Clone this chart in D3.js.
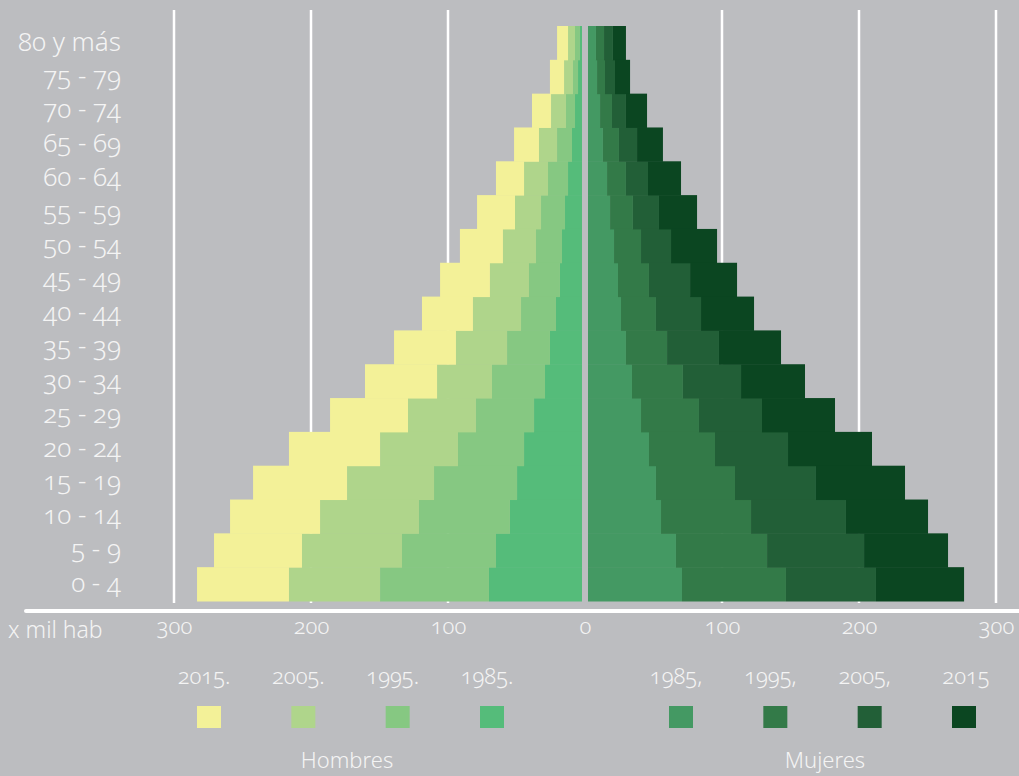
<!DOCTYPE html>
<html>
<head>
<meta charset="utf-8">
<script src="https://cdn.jsdelivr.net/npm/d3@7"></script>
<style>
  html, body { margin: 0; padding: 0; background: #bcbdc0; }
  svg text {
    font-family: "Noto Sans", "Open Sans", sans-serif;
    font-weight: 350;
    font-variant-numeric: oldstyle-nums;
    font-feature-settings: "onum" 1;
    fill: #f4f4f4;
  }
</style>
</head>
<body>
<svg id="chart" width="1019" height="776"></svg>
<script>
// age groups, top row first
const ages = ["80 y más", "75 - 79", "70 - 74", "65 - 69", "60 - 64", "55 - 59",
  "50 - 54", "45 - 49", "40 - 44", "35 - 39", "30 - 34", "25 - 29",
  "20 - 24", "15 - 19", "10 - 14", "5 - 9", "0 - 4"];

const years = ["1985", "1995", "2005", "2015"];

// thousands of inhabitants, stacked from the centre outwards
const hombres1985 = [1.5, 2.9, 5.1, 7.3, 10.2, 12.4, 14.6, 16.1, 19.0, 23.4, 27.0, 35.0, 42.3, 47.4, 52.6, 62.8, 67.9];
const hombres1995 = [3.6, 3.7, 6.6, 10.9, 14.6, 17.5, 19.0, 22.6, 25.5, 31.3, 38.7, 42.4, 48.2, 60.6, 66.4, 68.6, 79.5];
const hombres2005 = [5.1, 6.5, 10.9, 13.2, 17.5, 19.0, 24.1, 28.5, 35.1, 37.3, 40.1, 49.6, 56.9, 63.5, 72.2, 73.0, 66.5];
const hombres2015 = [8.0, 10.3, 13.9, 18.2, 20.5, 27.7, 31.4, 36.4, 37.2, 45.2, 52.6, 56.9, 66.5, 68.6, 65.7, 64.2, 67.1];

const mujeres1985 = [5.8, 6.6, 8.8, 10.9, 13.9, 16.1, 19.0, 21.9, 24.1, 27.7, 32.1, 38.7, 44.5, 49.6, 53.3, 64.2, 68.6];
const mujeres1995 = [5.9, 5.8, 8.7, 11.7, 13.8, 16.7, 19.7, 22.6, 25.5, 30.0, 37.2, 42.3, 48.2, 57.7, 65.7, 66.5, 75.9];
const mujeres2005 = [6.5, 7.3, 10.2, 13.2, 16.1, 19.0, 21.9, 30.0, 32.9, 37.9, 42.4, 46.0, 53.3, 59.1, 69.3, 70.8, 65.7];
const mujeres2015 = [9.5, 11.0, 15.4, 18.9, 24.1, 27.8, 33.6, 34.3, 38.7, 45.3, 46.7, 53.3, 61.3, 65.0, 59.9, 61.3, 64.3];

const leftTicks = [300, 200, 100, 0];
const rightTicks = [100, 200, 300];
const gridTicks = [100, 200, 300];

const hombresLabels = ["1985.", "1995.", "2005.", "2015."];
const mujeresLabels = ["1985,", "1995,", "2005,", "2015"];

const coloresHombres = ["#55bc7a", "#86c882", "#afd58b", "#f3f198"];
const coloresMujeres = ["#449963", "#337a48", "#225f37", "#0b4621"];

const svg = d3.select("#chart");

const center = 585, gap = 3;
const xM = d3.scaleLinear().domain([0, 300]).range([center, center - 411]);
const xF = d3.scaleLinear().domain([0, 300]).range([center, center + 411]);
const y = d3.scaleBand().domain(ages).range([26, 601]).padding(0);

function rows(series) {
  return ages.map((a, i) => {
    let r = { age: a };
    years.forEach((yr, j) => r[yr] = series[j][i]);
    return r;
  });
}

const stack = d3.stack().keys(years);
const stackM = stack(rows([hombres1985, hombres1995, hombres2005, hombres2015]));
const stackF = stack(rows([mujeres1985, mujeres1995, mujeres2005, mujeres2015]));

// grid lines, behind the bars
const grid = svg.append("g").attr("class", "grid");
grid.selectAll("line.m")
  .data(gridTicks)
  .join("line")
    .attr("class", "m")
    .attr("x1", d => xM(d)).attr("x2", d => xM(d))
    .attr("y1", 10).attr("y2", 603)
    .attr("stroke", "#fff").attr("stroke-width", 2.5);
grid.selectAll("line.f")
  .data(gridTicks)
  .join("line")
    .attr("class", "f")
    .attr("x1", d => xF(d)).attr("x2", d => xF(d))
    .attr("y1", 10).attr("y2", 603)
    .attr("stroke", "#fff").attr("stroke-width", 2.5);

// men to the left
svg.append("g").attr("class", "hombres")
  .selectAll("g")
  .data(stackM)
  .join("g")
    .attr("fill", (d, i) => coloresHombres[i])
  .selectAll("rect")
  .data(d => d)
  .join("rect")
    .attr("x", d => xM(d[1]) - gap)
    .attr("width", d => xM(d[0]) - xM(d[1]))
    .attr("y", d => y(d.data.age))
    .attr("height", y.bandwidth() + 0.5);

// women to the right
svg.append("g").attr("class", "mujeres")
  .selectAll("g")
  .data(stackF)
  .join("g")
    .attr("fill", (d, i) => coloresMujeres[i])
  .selectAll("rect")
  .data(d => d)
  .join("rect")
    .attr("x", d => xF(d[0]) + gap)
    .attr("width", d => xF(d[1]) - xF(d[0]))
    .attr("y", d => y(d.data.age))
    .attr("height", y.bandwidth() + 0.5);

// age labels
svg.append("g")
  .selectAll("text")
  .data(ages)
  .join("text")
    .attr("x", 121)
    .attr("y", d => y(d) + y.bandwidth() / 2)
    .attr("dy", "0.3em")
    .attr("text-anchor", "end")
    .attr("font-size", 26)
    .text(d => d);

// base line
svg.append("line")
  .attr("x1", 26).attr("x2", 1019)
  .attr("y1", 611).attr("y2", 611)
  .attr("stroke", "#fff").attr("stroke-width", 4)
  .attr("stroke-linecap", "round");

// tick labels
const axisL = d3.axisBottom(xM).tickValues(leftTicks).tickSize(0).tickPadding(0);
const axisR = d3.axisBottom(xF).tickValues(rightTicks).tickSize(0).tickPadding(0);
[axisL, axisR].forEach(ax => {
  const g = svg.append("g").attr("transform", "translate(0,618)").call(ax);
  g.select(".domain").remove();
  g.selectAll("text")
    .attr("font-size", 22)
    .attr("font-family", null)
    .attr("fill", null);
});

svg.append("text")
  .attr("x", 8).attr("y", 638)
  .attr("font-size", 23)
  .text("x mil hab");

// legend
const legM = d3.scalePoint().domain(years.slice().reverse()).range([209, 492]);
const legF = d3.scalePoint().domain(years).range([681, 964]);

function legend(scale, labels, colors, title, titleX) {
  const g = svg.append("g");
  const items = g.selectAll("g")
    .data(years)
    .join("g")
      .attr("transform", d => `translate(${scale(d)},0)`);
  items.append("rect")
    .attr("x", -12).attr("y", 706)
    .attr("width", 24).attr("height", 22)
    .attr("fill", (d, i) => colors[i]);
  items.append("text")
    .attr("x", (d, i) => labels[i].length > 4 ? -5 : 2)
    .attr("y", 684)
    .attr("text-anchor", "middle")
    .attr("font-size", 22)
    .text((d, i) => labels[i]);
  g.append("text")
    .attr("x", titleX).attr("y", 768)
    .attr("text-anchor", "middle")
    .attr("font-size", 22)
    .text(title);
}
legend(legM, hombresLabels, coloresHombres, "Hombres", 347);
legend(legF, mujeresLabels, coloresMujeres, "Mujeres", 825);
</script>
</body>
</html>
